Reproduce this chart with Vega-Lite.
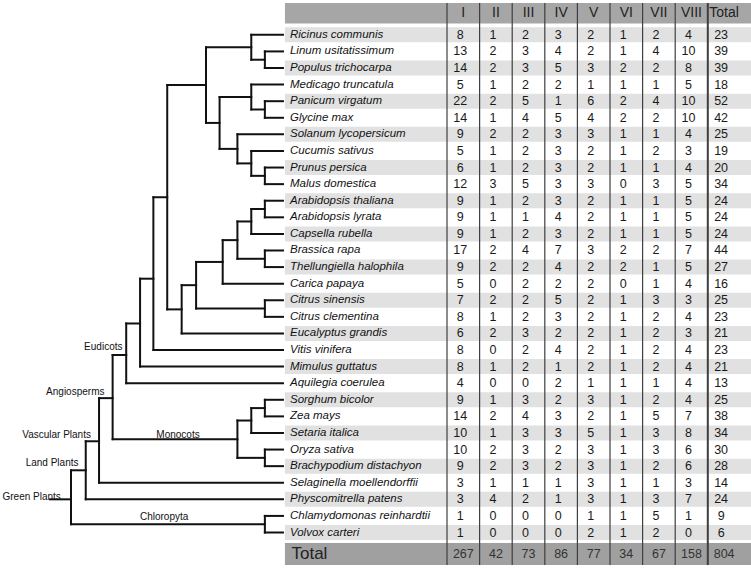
{
  "$schema": "https://vega.github.io/schema/vega-lite/v6.json",
  "width": 751,
  "height": 569,
  "padding": 0,
  "autosize": {"type": "none"},
  "background": "white",
  "config": {"view": {"stroke": null}, "text": {"font": "Liberation Sans"}},
  "datasets": {
    "species": [
      {"sp": "Ricinus communis", "r": 0, "I": 8, "II": 1, "III": 2, "IV": 3, "V": 2, "VI": 1, "VII": 2, "VIII": 4, "Total": 23},
      {"sp": "Linum usitatissimum", "r": 1, "I": 13, "II": 2, "III": 3, "IV": 4, "V": 2, "VI": 1, "VII": 4, "VIII": 10, "Total": 39},
      {"sp": "Populus trichocarpa", "r": 2, "I": 14, "II": 2, "III": 3, "IV": 5, "V": 3, "VI": 2, "VII": 2, "VIII": 8, "Total": 39},
      {"sp": "Medicago truncatula", "r": 3, "I": 5, "II": 1, "III": 2, "IV": 2, "V": 1, "VI": 1, "VII": 1, "VIII": 5, "Total": 18},
      {"sp": "Panicum virgatum", "r": 4, "I": 22, "II": 2, "III": 5, "IV": 1, "V": 6, "VI": 2, "VII": 4, "VIII": 10, "Total": 52},
      {"sp": "Glycine max", "r": 5, "I": 14, "II": 1, "III": 4, "IV": 5, "V": 4, "VI": 2, "VII": 2, "VIII": 10, "Total": 42},
      {"sp": "Solanum lycopersicum", "r": 6, "I": 9, "II": 2, "III": 2, "IV": 3, "V": 3, "VI": 1, "VII": 1, "VIII": 4, "Total": 25},
      {"sp": "Cucumis sativus", "r": 7, "I": 5, "II": 1, "III": 2, "IV": 3, "V": 2, "VI": 1, "VII": 2, "VIII": 3, "Total": 19},
      {"sp": "Prunus persica", "r": 8, "I": 6, "II": 1, "III": 2, "IV": 3, "V": 2, "VI": 1, "VII": 1, "VIII": 4, "Total": 20},
      {"sp": "Malus domestica", "r": 9, "I": 12, "II": 3, "III": 5, "IV": 3, "V": 3, "VI": 0, "VII": 3, "VIII": 5, "Total": 34},
      {"sp": "Arabidopsis thaliana", "r": 10, "I": 9, "II": 1, "III": 2, "IV": 3, "V": 2, "VI": 1, "VII": 1, "VIII": 5, "Total": 24},
      {"sp": "Arabidopsis lyrata", "r": 11, "I": 9, "II": 1, "III": 1, "IV": 4, "V": 2, "VI": 1, "VII": 1, "VIII": 5, "Total": 24},
      {"sp": "Capsella rubella", "r": 12, "I": 9, "II": 1, "III": 2, "IV": 3, "V": 2, "VI": 1, "VII": 1, "VIII": 5, "Total": 24},
      {"sp": "Brassica rapa", "r": 13, "I": 17, "II": 2, "III": 4, "IV": 7, "V": 3, "VI": 2, "VII": 2, "VIII": 7, "Total": 44},
      {"sp": "Thellungiella halophila", "r": 14, "I": 9, "II": 2, "III": 2, "IV": 4, "V": 2, "VI": 2, "VII": 1, "VIII": 5, "Total": 27},
      {"sp": "Carica papaya", "r": 15, "I": 5, "II": 0, "III": 2, "IV": 2, "V": 2, "VI": 0, "VII": 1, "VIII": 4, "Total": 16},
      {"sp": "Citrus sinensis", "r": 16, "I": 7, "II": 2, "III": 2, "IV": 5, "V": 2, "VI": 1, "VII": 3, "VIII": 3, "Total": 25},
      {"sp": "Citrus clementina", "r": 17, "I": 8, "II": 1, "III": 2, "IV": 3, "V": 2, "VI": 1, "VII": 2, "VIII": 4, "Total": 23},
      {"sp": "Eucalyptus grandis", "r": 18, "I": 6, "II": 2, "III": 3, "IV": 2, "V": 2, "VI": 1, "VII": 2, "VIII": 3, "Total": 21},
      {"sp": "Vitis vinifera", "r": 19, "I": 8, "II": 0, "III": 2, "IV": 4, "V": 2, "VI": 1, "VII": 2, "VIII": 4, "Total": 23},
      {"sp": "Mimulus guttatus", "r": 20, "I": 8, "II": 1, "III": 2, "IV": 1, "V": 2, "VI": 1, "VII": 2, "VIII": 4, "Total": 21},
      {"sp": "Aquilegia coerulea", "r": 21, "I": 4, "II": 0, "III": 0, "IV": 2, "V": 1, "VI": 1, "VII": 1, "VIII": 4, "Total": 13},
      {"sp": "Sorghum bicolor", "r": 22, "I": 9, "II": 1, "III": 3, "IV": 2, "V": 3, "VI": 1, "VII": 2, "VIII": 4, "Total": 25},
      {"sp": "Zea mays", "r": 23, "I": 14, "II": 2, "III": 4, "IV": 3, "V": 2, "VI": 1, "VII": 5, "VIII": 7, "Total": 38},
      {"sp": "Setaria italica", "r": 24, "I": 10, "II": 1, "III": 3, "IV": 3, "V": 5, "VI": 1, "VII": 3, "VIII": 8, "Total": 34},
      {"sp": "Oryza sativa", "r": 25, "I": 10, "II": 2, "III": 3, "IV": 2, "V": 3, "VI": 1, "VII": 3, "VIII": 6, "Total": 30},
      {"sp": "Brachypodium distachyon", "r": 26, "I": 9, "II": 2, "III": 3, "IV": 2, "V": 3, "VI": 1, "VII": 2, "VIII": 6, "Total": 28},
      {"sp": "Selaginella moellendorffii", "r": 27, "I": 3, "II": 1, "III": 1, "IV": 1, "V": 3, "VI": 1, "VII": 1, "VIII": 3, "Total": 14},
      {"sp": "Physcomitrella patens", "r": 28, "I": 3, "II": 4, "III": 2, "IV": 1, "V": 3, "VI": 1, "VII": 3, "VIII": 7, "Total": 24},
      {"sp": "Chlamydomonas reinhardtii", "r": 29, "I": 1, "II": 0, "III": 0, "IV": 0, "V": 1, "VI": 1, "VII": 5, "VIII": 1, "Total": 9},
      {"sp": "Volvox carteri", "r": 30, "I": 1, "II": 0, "III": 0, "IV": 0, "V": 2, "VI": 1, "VII": 2, "VIII": 0, "Total": 6}
    ],
    "totals": [
      {"col": "I", "ci": 1, "n": 267}, {"col": "II", "ci": 2, "n": 42}, {"col": "III", "ci": 3, "n": 73},
      {"col": "IV", "ci": 4, "n": 86}, {"col": "V", "ci": 5, "n": 77}, {"col": "VI", "ci": 6, "n": 34},
      {"col": "VII", "ci": 7, "n": 67}, {"col": "VIII", "ci": 8, "n": 158}, {"col": "Total", "ci": 9, "n": 804}
    ],
    "clades": [
      {"label": "Eudicots", "x": 36.5, "y": 18.8},
      {"label": "Angiosperms", "x": 26.6, "y": 21.55},
      {"label": "Vascular Plants", "x": 20.0, "y": 24.12},
      {"label": "Land Plants", "x": 18.4, "y": 25.83},
      {"label": "Green Plants", "x": 11.2, "y": 27.84},
      {"label": "Monocots", "x": 62.9, "y": 24.12},
      {"label": "Chloropyta", "x": 58.0, "y": 29.08}
    ],
    "segs": [
      {"x": 93.6, "x2": 93.6, "y": 1, "y2": 2},
      {"x": 88.8, "x2": 88.8, "y": 0, "y2": 1.5},
      {"x": 93.6, "x2": 93.6, "y": 4, "y2": 5},
      {"x": 88.8, "x2": 88.8, "y": 3, "y2": 4.5},
      {"x": 93.6, "x2": 93.6, "y": 8, "y2": 9},
      {"x": 88.8, "x2": 88.8, "y": 7, "y2": 8.5},
      {"x": 83.9, "x2": 83.9, "y": 6, "y2": 7.75},
      {"x": 77.6, "x2": 77.6, "y": 3.75, "y2": 6.875},
      {"x": 72.8, "x2": 72.8, "y": 0.75, "y2": 5.31},
      {"x": 93.6, "x2": 93.6, "y": 10, "y2": 11},
      {"x": 88.8, "x2": 88.8, "y": 10.5, "y2": 12},
      {"x": 93.6, "x2": 93.6, "y": 13, "y2": 14},
      {"x": 83.9, "x2": 83.9, "y": 11.25, "y2": 13.5},
      {"x": 78.7, "x2": 78.7, "y": 12.375, "y2": 15},
      {"x": 93.6, "x2": 93.6, "y": 16, "y2": 17},
      {"x": 69.3, "x2": 69.3, "y": 13.69, "y2": 16.5},
      {"x": 64.2, "x2": 64.2, "y": 15.09, "y2": 18},
      {"x": 59.1, "x2": 59.1, "y": 3.03, "y2": 16.55},
      {"x": 54.2, "x2": 54.2, "y": 9.79, "y2": 19},
      {"x": 49.5, "x2": 49.5, "y": 14.7, "y2": 20},
      {"x": 44.6, "x2": 44.6, "y": 17.4, "y2": 21},
      {"x": 93.6, "x2": 93.6, "y": 22, "y2": 23},
      {"x": 88.8, "x2": 88.8, "y": 22.5, "y2": 24},
      {"x": 93.6, "x2": 93.6, "y": 25, "y2": 26},
      {"x": 83.9, "x2": 83.9, "y": 23.25, "y2": 25.5},
      {"x": 39.8, "x2": 39.8, "y": 19.3, "y2": 24.375},
      {"x": 35.0, "x2": 35.0, "y": 21.9, "y2": 27},
      {"x": 30.3, "x2": 30.3, "y": 24.5, "y2": 28},
      {"x": 93.6, "x2": 93.6, "y": 29, "y2": 30},
      {"x": 25.1, "x2": 25.1, "y": 26.25, "y2": 29.5},
      {"x": 88.8, "x2": 100, "y": 0, "y2": 0},
      {"x": 93.6, "x2": 100, "y": 1, "y2": 1},
      {"x": 93.6, "x2": 100, "y": 2, "y2": 2},
      {"x": 88.8, "x2": 100, "y": 3, "y2": 3},
      {"x": 93.6, "x2": 100, "y": 4, "y2": 4},
      {"x": 93.6, "x2": 100, "y": 5, "y2": 5},
      {"x": 83.9, "x2": 100, "y": 6, "y2": 6},
      {"x": 88.8, "x2": 100, "y": 7, "y2": 7},
      {"x": 93.6, "x2": 100, "y": 8, "y2": 8},
      {"x": 93.6, "x2": 100, "y": 9, "y2": 9},
      {"x": 93.6, "x2": 100, "y": 10, "y2": 10},
      {"x": 93.6, "x2": 100, "y": 11, "y2": 11},
      {"x": 88.8, "x2": 100, "y": 12, "y2": 12},
      {"x": 93.6, "x2": 100, "y": 13, "y2": 13},
      {"x": 93.6, "x2": 100, "y": 14, "y2": 14},
      {"x": 78.7, "x2": 100, "y": 15, "y2": 15},
      {"x": 93.6, "x2": 100, "y": 16, "y2": 16},
      {"x": 93.6, "x2": 100, "y": 17, "y2": 17},
      {"x": 64.2, "x2": 100, "y": 18, "y2": 18},
      {"x": 54.2, "x2": 100, "y": 19, "y2": 19},
      {"x": 49.5, "x2": 100, "y": 20, "y2": 20},
      {"x": 44.6, "x2": 100, "y": 21, "y2": 21},
      {"x": 93.6, "x2": 100, "y": 22, "y2": 22},
      {"x": 93.6, "x2": 100, "y": 23, "y2": 23},
      {"x": 88.8, "x2": 100, "y": 24, "y2": 24},
      {"x": 93.6, "x2": 100, "y": 25, "y2": 25},
      {"x": 93.6, "x2": 100, "y": 26, "y2": 26},
      {"x": 35.0, "x2": 100, "y": 27, "y2": 27},
      {"x": 30.3, "x2": 100, "y": 28, "y2": 28},
      {"x": 93.6, "x2": 100, "y": 29, "y2": 29},
      {"x": 93.6, "x2": 100, "y": 30, "y2": 30},
      {"x": 88.8, "x2": 93.6, "y": 1.5, "y2": 1.5},
      {"x": 88.8, "x2": 93.6, "y": 4.5, "y2": 4.5},
      {"x": 88.8, "x2": 93.6, "y": 8.5, "y2": 8.5},
      {"x": 83.9, "x2": 88.8, "y": 7.75, "y2": 7.75},
      {"x": 72.8, "x2": 88.8, "y": 0.75, "y2": 0.75},
      {"x": 77.6, "x2": 88.8, "y": 3.75, "y2": 3.75},
      {"x": 77.6, "x2": 83.9, "y": 6.875, "y2": 6.875},
      {"x": 72.8, "x2": 77.6, "y": 5.31, "y2": 5.31},
      {"x": 59.1, "x2": 72.8, "y": 3.03, "y2": 3.03},
      {"x": 88.8, "x2": 93.6, "y": 10.5, "y2": 10.5},
      {"x": 83.9, "x2": 88.8, "y": 11.25, "y2": 11.25},
      {"x": 83.9, "x2": 93.6, "y": 13.5, "y2": 13.5},
      {"x": 78.7, "x2": 83.9, "y": 12.375, "y2": 12.375},
      {"x": 69.3, "x2": 78.7, "y": 13.69, "y2": 13.69},
      {"x": 69.3, "x2": 93.6, "y": 16.5, "y2": 16.5},
      {"x": 64.2, "x2": 69.3, "y": 15.09, "y2": 15.09},
      {"x": 59.1, "x2": 64.2, "y": 16.55, "y2": 16.55},
      {"x": 54.2, "x2": 59.1, "y": 9.79, "y2": 9.79},
      {"x": 49.5, "x2": 54.2, "y": 14.7, "y2": 14.7},
      {"x": 44.6, "x2": 49.5, "y": 17.4, "y2": 17.4},
      {"x": 39.8, "x2": 44.6, "y": 19.3, "y2": 19.3},
      {"x": 88.8, "x2": 93.6, "y": 22.5, "y2": 22.5},
      {"x": 83.9, "x2": 88.8, "y": 23.25, "y2": 23.25},
      {"x": 83.9, "x2": 93.6, "y": 25.5, "y2": 25.5},
      {"x": 39.8, "x2": 83.9, "y": 24.375, "y2": 24.375},
      {"x": 35.0, "x2": 39.8, "y": 21.9, "y2": 21.9},
      {"x": 30.3, "x2": 35.0, "y": 24.5, "y2": 24.5},
      {"x": 25.1, "x2": 30.3, "y": 26.25, "y2": 26.25},
      {"x": 25.1, "x2": 93.6, "y": 29.5, "y2": 29.5},
      {"x": 17.7, "x2": 25.1, "y": 28.0, "y2": 28.0}
    ]
  },
  "layer": [
    {
      "layer": [
        {
          "data": {"name": "species"},
          "transform": [{"filter": "datum.r % 2 === 0"}],
          "mark": {"type": "rule", "strokeWidth": 15, "strokeCap": "butt", "color": "#e1e1e1"},
          "encoding": {
            "x": {"datum": 100.7, "type": "quantitative", "scale": {"domain": [0, 265.4], "nice": false, "zero": false}, "axis": null},
            "x2": {"datum": 265.4},
            "y": {"field": "r", "type": "quantitative", "scale": {"domain": [-2.1, 32.2], "reverse": true, "nice": false, "zero": false}, "axis": null}
          }
        },
        {
          "data": {"values": [{"band": "header"}]},
          "mark": {"type": "rule", "strokeWidth": 20.5, "strokeCap": "butt", "color": "#a6a6a6"},
          "encoding": {
            "x": {"datum": 100.7, "type": "quantitative", "scale": {"domain": [0, 265.4], "nice": false, "zero": false}, "axis": null},
            "x2": {"datum": 265.4},
            "y": {"datum": -1.3, "type": "quantitative", "scale": {"domain": [-2.1, 32.2], "reverse": true, "nice": false, "zero": false}, "axis": null}
          }
        },
        {
          "data": {"values": [{"band": "total"}]},
          "mark": {"type": "rule", "strokeWidth": 22, "strokeCap": "butt", "color": "#a0a0a0"},
          "encoding": {
            "x": {"datum": 100.7, "type": "quantitative", "scale": {"domain": [0, 265.4], "nice": false, "zero": false}, "axis": null},
            "x2": {"datum": 265.4},
            "y": {"datum": 31.3, "type": "quantitative", "scale": {"domain": [-2.1, 32.2], "reverse": true, "nice": false, "zero": false}, "axis": null}
          }
        },
        {
          "data": {"name": "segs"},
          "mark": {"type": "rule", "strokeWidth": 2, "strokeCap": "square", "color": "#111111"},
          "encoding": {
            "x": {"field": "x", "type": "quantitative", "scale": {"domain": [0, 265.4], "nice": false, "zero": false}, "axis": null},
            "x2": {"field": "x2"},
            "y": {"field": "y", "type": "quantitative", "scale": {"domain": [-2.1, 32.2], "reverse": true, "nice": false, "zero": false}, "axis": null},
            "y2": {"field": "y2"}
          }
        },
        {
          "data": {"name": "clades"},
          "mark": {"type": "text", "fontSize": 10, "align": "center", "baseline": "middle", "color": "#111111"},
          "encoding": {
            "x": {"field": "x", "type": "quantitative", "scale": {"domain": [0, 265.4], "nice": false, "zero": false}, "axis": null},
            "y": {"field": "y", "type": "quantitative", "scale": {"domain": [-2.1, 32.2], "reverse": true, "nice": false, "zero": false}, "axis": null},
            "text": {"field": "label"}
          }
        },
        {
          "data": {"name": "species"},
          "mark": {"type": "text", "fontSize": 11.5, "fontStyle": "italic", "align": "left", "baseline": "middle", "dx": 7, "color": "#111111"},
          "encoding": {
            "x": {"datum": 100, "type": "quantitative", "scale": {"domain": [0, 265.4], "nice": false, "zero": false}, "axis": null},
            "y": {"field": "r", "type": "quantitative", "scale": {"domain": [-2.1, 32.2], "reverse": true, "nice": false, "zero": false}, "axis": null},
            "text": {"field": "sp"}
          }
        },
        {
          "data": {"values": [{"label": "Total"}]},
          "mark": {"type": "text", "fontSize": 17, "align": "left", "baseline": "middle", "dx": 8.5, "color": "#222222"},
          "encoding": {
            "x": {"datum": 100, "type": "quantitative", "scale": {"domain": [0, 265.4], "nice": false, "zero": false}, "axis": null},
            "y": {"datum": 31.3, "type": "quantitative", "scale": {"domain": [-2.1, 32.2], "reverse": true, "nice": false, "zero": false}, "axis": null},
            "text": {"field": "label"}
          }
        }
      ]
    },
    {
      "layer": [
        {
          "data": {"name": "totals"},
          "mark": {"type": "rule", "xOffset": -16.3, "color": "#3f3f3f"},
          "encoding": {
            "x": {"field": "ci", "type": "quantitative", "scale": {"domain": [-13.212, 9.825], "nice": false, "zero": false}, "axis": null},
            "y": {"datum": -1.92, "type": "quantitative", "scale": {"domain": [-2.1, 32.2], "reverse": true, "nice": false, "zero": false}, "axis": null},
            "y2": {"datum": 31.96},
            "strokeWidth": {"condition": {"test": "datum.col === 'Total'", "value": 2}, "value": 1.2}
          }
        },
        {
          "data": {"name": "totals"},
          "mark": {"type": "text", "fontSize": 14, "align": "center", "baseline": "middle", "color": "#222222"},
          "encoding": {
            "x": {"field": "ci", "type": "quantitative", "scale": {"domain": [-13.212, 9.825], "nice": false, "zero": false}, "axis": null},
            "y": {"datum": -1.3, "type": "quantitative", "scale": {"domain": [-2.1, 32.2], "reverse": true, "nice": false, "zero": false}, "axis": null},
            "text": {"field": "col"}
          }
        },
        {
          "data": {"name": "species"},
          "transform": [
            {"fold": ["I", "II", "III", "IV", "V", "VI", "VII", "VIII", "Total"], "as": ["col", "n"]},
            {"lookup": "col", "from": {"data": {"name": "totals"}, "key": "col", "fields": ["ci"]}}
          ],
          "mark": {"type": "text", "fontSize": 12.5, "align": "center", "baseline": "middle", "dx": -3, "color": "#1a1a1a"},
          "encoding": {
            "x": {"field": "ci", "type": "quantitative", "scale": {"domain": [-13.212, 9.825], "nice": false, "zero": false}, "axis": null},
            "y": {"field": "r", "type": "quantitative", "scale": {"domain": [-2.1, 32.2], "reverse": true, "nice": false, "zero": false}, "axis": null},
            "text": {"field": "n", "type": "quantitative"}
          }
        },
        {
          "data": {"name": "totals"},
          "mark": {"type": "text", "fontSize": 12.5, "align": "center", "baseline": "middle", "color": "#333333"},
          "encoding": {
            "x": {"field": "ci", "type": "quantitative", "scale": {"domain": [-13.212, 9.825], "nice": false, "zero": false}, "axis": null},
            "y": {"datum": 31.3, "type": "quantitative", "scale": {"domain": [-2.1, 32.2], "reverse": true, "nice": false, "zero": false}, "axis": null},
            "text": {"field": "n", "type": "quantitative"}
          }
        }
      ]
    }
  ],
  "resolve": {"scale": {"x": "independent"}}
}
